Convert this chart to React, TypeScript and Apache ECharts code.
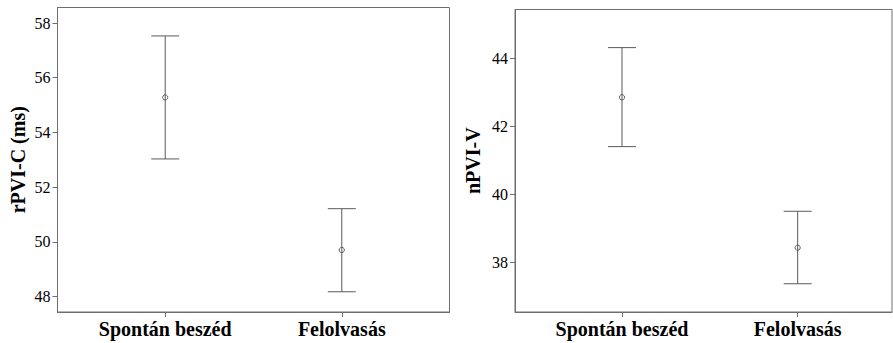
import React, { useEffect, useRef } from "react";
import * as echarts from "echarts";

const categories = ["Spontán beszéd", "Felolvasás"];
const rpviMean = [55.28, 49.7];
const rpviLower = [53.03, 48.17];
const rpviUpper = [57.53, 51.21];
const npviMean = [42.86, 38.44];
const npviLower = [41.41, 37.38];
const npviUpper = [44.32, 39.51];
const rpviTicks = [48, 50, 52, 54, 56, 58];
const npviTicks = [38, 40, 42, 44];

const LINE = "#5a5a5a";
const FRAME = "#6e6e6e";
const FONT = "'Liberation Serif', 'Times New Roman', serif";

function buildData(mean: number[], lo: number[], hi: number[]) {
  return mean.map((m, i) => [i + 1, m, lo[i], hi[i]]);
}

const renderItem = (params: any, api: any) => {
  const x = api.value(0);
  const pm = api.coord([x, api.value(1)]);
  const pl = api.coord([x, api.value(2)]);
  const ph = api.coord([x, api.value(3)]);
  const half = 14;
  const st = { stroke: LINE, lineWidth: 1 };
  return {
    type: "group",
    children: [
      { type: "line", shape: { x1: pm[0], y1: pl[1], x2: pm[0], y2: ph[1] }, style: st },
      { type: "line", shape: { x1: pm[0] - half, y1: ph[1], x2: pm[0] + half, y2: ph[1] }, style: st },
      { type: "line", shape: { x1: pm[0] - half, y1: pl[1], x2: pm[0] + half, y2: pl[1] }, style: st },
      { type: "circle", shape: { cx: pm[0], cy: pm[1], r: 2.6 }, style: { stroke: LINE, fill: "none", lineWidth: 1 } },
    ],
  };
};

function xAxis(gridIndex: number, min: number, max: number) {
  return {
    type: "value",
    gridIndex,
    min,
    max,
    axisLine: { show: true, lineStyle: { color: FRAME } },
    axisTick: { show: true, inside: false, length: 5, customValues: [1, 2], lineStyle: { color: FRAME } },
    axisLabel: {
      customValues: [1, 2],
      formatter: (v: number) => categories[Math.round(v) - 1] ?? "",
      fontFamily: FONT,
      fontWeight: "bold",
      fontSize: 20,
      color: "#000",
      margin: 7,
    },
    splitLine: { show: false },
  };
}

function yAxis(gridIndex: number, min: number, max: number, ticks: number[], name: string, gap: number) {
  return {
    type: "value",
    gridIndex,
    min,
    max,
    name,
    nameLocation: "middle",
    nameGap: gap,
    nameTextStyle: { fontFamily: FONT, fontWeight: "bold", fontSize: 20, color: "#000" },
    axisLine: { show: true, lineStyle: { color: FRAME } },
    axisTick: { show: true, inside: false, length: 5, customValues: ticks, lineStyle: { color: FRAME } },
    axisLabel: {
      customValues: ticks,
      fontFamily: FONT,
      fontSize: 16,
      color: "#000",
      margin: 7,
    },
    splitLine: { show: false },
  };
}

export default function App() {
  const ref = useRef<HTMLDivElement>(null);
  useEffect(() => {
    if (!ref.current) return;
    const chart = echarts.init(ref.current, undefined, { renderer: "svg" });
    chart.setOption({
      animation: false,
      backgroundColor: "#fff",
      grid: [
        { left: 57.5, top: 7.5, width: 392, height: 304.5, show: true, borderColor: FRAME, borderWidth: 1, backgroundColor: "transparent" },
        { left: 515, top: 9.5, width: 377, height: 302.5, show: true, borderColor: FRAME, borderWidth: 1, backgroundColor: "transparent" },
      ],
      xAxis: [xAxis(0, 0.39, 2.61), xAxis(1, 0.391, 2.537)],
      yAxis: [
        yAxis(0, 47.43, 58.57, rpviTicks, "rPVI-C (ms)", 30),
        yAxis(1, 36.55, 45.44, npviTicks, "nPVI-V", 32),
      ],
      series: [
        {
          type: "custom",
          xAxisIndex: 0,
          yAxisIndex: 0,
          renderItem,
          encode: { x: 0, y: [1, 2, 3] },
          data: buildData(rpviMean, rpviLower, rpviUpper),
        },
        {
          type: "custom",
          xAxisIndex: 1,
          yAxisIndex: 1,
          renderItem,
          encode: { x: 0, y: [1, 2, 3] },
          data: buildData(npviMean, npviLower, npviUpper),
        },
      ],
    });
    return () => chart.dispose();
  }, []);
  return (
    <div
      ref={ref}
      style={{ position: "fixed", left: 0, top: 0, width: 893, height: 343, background: "#fff" }}
    />
  );
}
